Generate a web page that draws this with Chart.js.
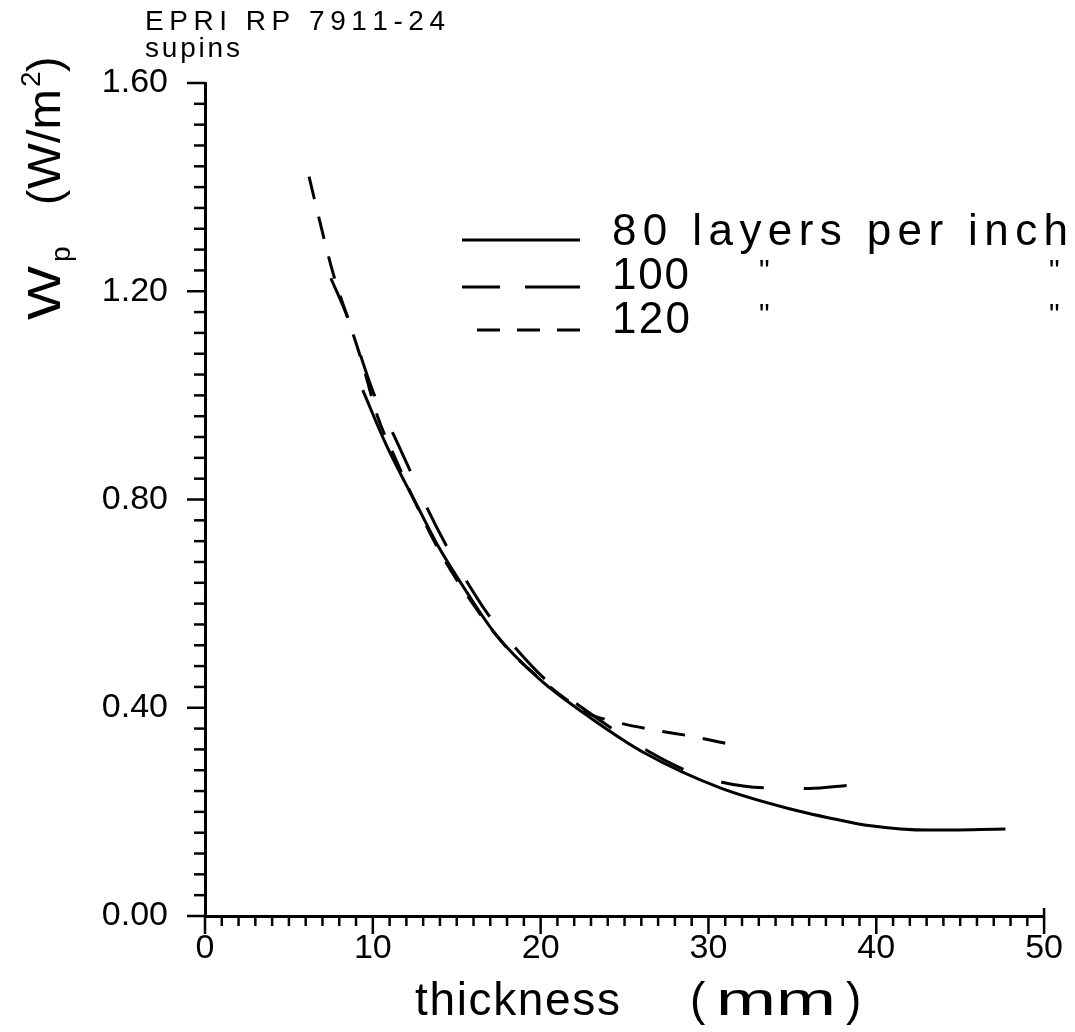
<!DOCTYPE html>
<html>
<head>
<meta charset="utf-8">
<script src="https://cdn.jsdelivr.net/npm/chart.js@4.4.1/dist/chart.umd.min.js"></script>
<style>
  html, body { margin: 0; padding: 0; background: #fff; }
  #wrap { width: 1075px; height: 1032px; position: relative; }
</style>
</head>
<body>
<div id="wrap"><canvas id="chart"></canvas></div>
<script>
// Wp vs thickness, EPRI RP 7911-24

const FONT = '"Liberation Sans", "DejaVu Sans", sans-serif';

// 80 layers per inch (solid)
const thick80 = [9.4, 10.8, 12.9, 13.9, 15.6, 17.3, 20.0, 23.0, 26.2, 30.7, 34.7, 38.3, 39.3, 43.2, 47.7];
const wp80 = [1.01, 0.905, 0.772, 0.71, 0.622, 0.542, 0.453, 0.38, 0.313, 0.246, 0.207, 0.181, 0.175, 0.165, 0.167];

// 100 layers per inch (long dash)
const thick100 = [7.5, 8.5, 10.1, 11.1, 12.2, 13.2, 14.35, 15.5, 16.9, 18.5, 20.2, 23.0, 26.5, 29.0, 30.8, 33.4, 36.0, 38.4];
const wp100 = [1.225, 1.15, 1.0, 0.934, 0.857, 0.786, 0.713, 0.648, 0.578, 0.515, 0.457, 0.388, 0.315, 0.275, 0.257, 0.246, 0.245, 0.251];

// 120 layers per inch (short dash)
const thick120 = [6.2, 7.1, 7.7, 8.5, 9.3, 10.3, 11.3, 12.3, 13.9, 16.0, 18.0, 20.0, 22.8, 24.3, 26.8, 29.2, 31.7];
const wp120 = [1.42, 1.30, 1.227, 1.149, 1.07, 0.958, 0.882, 0.81, 0.705, 0.598, 0.515, 0.455, 0.39, 0.374, 0.357, 0.344, 0.327];

const legendLabels = ['80 layers per inch', '100', '120'];
const dashes = [[], [43, 40], [23, 18]];

function pts(xs, ys) {
  return xs.map((x, i) => ({ x: x, y: ys[i] }));
}

// draw text spread over a given width (the original font is widely spaced)
function spacedText(ctx, text, x, y, width) {
  const chars = [...text];
  const w = chars.map(c => ctx.measureText(c).width);
  const sum = w.reduce((a, b) => a + b, 0);
  const gap = chars.length > 1 ? (width - sum) / (chars.length - 1) : 0;
  let cx = x;
  chars.forEach((c, i) => {
    ctx.fillText(c, cx, y);
    cx += w[i] + gap;
  });
}

// draw text stretched horizontally to a given width
function stretchedText(ctx, text, x, y, width) {
  const w = ctx.measureText(text).width;
  ctx.save();
  ctx.translate(x, y);
  ctx.scale(width / w, 1);
  ctx.fillText(text, 0, 0);
  ctx.restore();
}

const decorations = {
  id: 'decorations',
  afterDraw(chart) {
    const ctx = chart.ctx;
    const xs = chart.scales.x;
    const ys = chart.scales.y;
    const area = chart.chartArea;
    ctx.save();
    ctx.strokeStyle = '#000';
    ctx.fillStyle = '#000';
    ctx.lineWidth = 2.5;
    ctx.lineCap = 'butt';

    // x ticks, every 1 mm
    for (let v = 0; v <= 50; v++) {
      const px = xs.getPixelForValue(v);
      const len = v % 10 === 0 ? 18 : 10;
      ctx.beginPath();
      ctx.moveTo(px, area.bottom);
      ctx.lineTo(px, area.bottom + len);
      ctx.stroke();
    }
    ctx.beginPath();
    ctx.moveTo(xs.getPixelForValue(50), area.bottom);
    ctx.lineTo(xs.getPixelForValue(50), area.bottom - 8);
    ctx.stroke();

    // y ticks, every 0.04
    for (let i = 0; i <= 40; i++) {
      const py = ys.getPixelForValue(i * 0.04);
      const len = i % 10 === 0 ? 18 : 11;
      ctx.beginPath();
      ctx.moveTo(area.left, py);
      ctx.lineTo(area.left - len, py);
      ctx.stroke();
    }

    ctx.textAlign = 'left';
    ctx.textBaseline = 'alphabetic';

    // header
    ctx.font = '28px ' + FONT;
    spacedText(ctx, 'EPRI RP 7911-24', 145, 30, 300);
    spacedText(ctx, 'supins', 145, 57, 95);

    // x title
    ctx.font = '46px ' + FONT;
    spacedText(ctx, 'thickness', 415, 1015, 205);
    ctx.fillText('(', 690, 1015);
    stretchedText(ctx, 'mm', 716, 1015, 120);
    ctx.fillText(')', 846, 1015);

    // legend
    const rows = [240, 287, 330];
    const baselines = [245, 289, 333];
    const widths = [456, 77, 78];
    rows.forEach((y, i) => {
      ctx.save();
      ctx.lineWidth = 3;
      ctx.beginPath();
      if (i === 0) { ctx.moveTo(462, y); ctx.lineTo(580, y); }
      if (i === 1) { ctx.moveTo(462, y); ctx.lineTo(500, y); ctx.moveTo(525, y); ctx.lineTo(580, y); }
      if (i === 2) {
        ctx.moveTo(477, y); ctx.lineTo(500, y);
        ctx.moveTo(517, y); ctx.lineTo(540, y);
        ctx.moveTo(557, y); ctx.lineTo(580, y);
      }
      ctx.stroke();
      ctx.restore();
      ctx.font = '44px ' + FONT;
      spacedText(ctx, legendLabels[i], 612, baselines[i], widths[i]);
      if (i > 0) {
        ctx.font = '30px ' + FONT;
        ctx.fillText('"', 759, baselines[i] - 9);
        ctx.fillText('"', 1049, baselines[i] - 9);
      }
    });

    // y title, rotated
    ctx.save();
    ctx.translate(60, 320);
    ctx.rotate(-Math.PI / 2);
    ctx.font = '46px ' + FONT;
    stretchedText(ctx, 'W', 0, 0, 54);
    ctx.font = '28px ' + FONT;
    ctx.fillText('p', 58, 10);
    ctx.font = '46px ' + FONT;
    ctx.fillText('(', 115, 0);
    stretchedText(ctx, 'W/m', 131, 0, 100);
    ctx.font = '28px ' + FONT;
    ctx.fillText('2', 233, -20);
    ctx.font = '46px ' + FONT;
    ctx.fillText(')', 248, 0);
    ctx.restore();

    ctx.restore();
  }
};

const lineStyle = { borderColor: '#000', borderWidth: 3, pointRadius: 0, fill: false, cubicInterpolationMode: 'monotone' };

new Chart(document.getElementById('chart'), {
  type: 'line',
  data: {
    datasets: [
      Object.assign({ label: legendLabels[0], data: pts(thick80, wp80), borderDash: dashes[0] }, lineStyle),
      Object.assign({ label: legendLabels[1], data: pts(thick100, wp100), borderDash: dashes[1] }, lineStyle),
      Object.assign({ label: legendLabels[2], data: pts(thick120, wp120), borderDash: dashes[2] }, lineStyle)
    ]
  },
  options: {
    responsive: true,
    maintainAspectRatio: false,
    animation: false,
    layout: { padding: { left: 0, right: 27, top: 83, bottom: 0 } },
    plugins: { legend: { display: false }, tooltip: { enabled: false } },
    scales: {
      x: {
        type: 'linear', min: 0, max: 50,
        grid: { display: false, drawTicks: false },
        border: { display: true, color: '#000', width: 3 },
        ticks: { stepSize: 10, color: '#000', padding: 12, maxRotation: 0, font: { size: 34, family: FONT } },
        afterFit(scale) { scale.height = 116; }
      },
      y: {
        type: 'linear', min: 0, max: 1.6,
        grid: { display: false, drawTicks: false },
        border: { display: true, color: '#000', width: 3 },
        ticks: { stepSize: 0.4, color: '#000', padding: 37, font: { size: 34, family: FONT },
          callback: v => Number(v).toFixed(2) },
        afterFit(scale) { scale.width = 205; }
      }
    }
  },
  plugins: [decorations]
});
</script>
</body>
</html>
